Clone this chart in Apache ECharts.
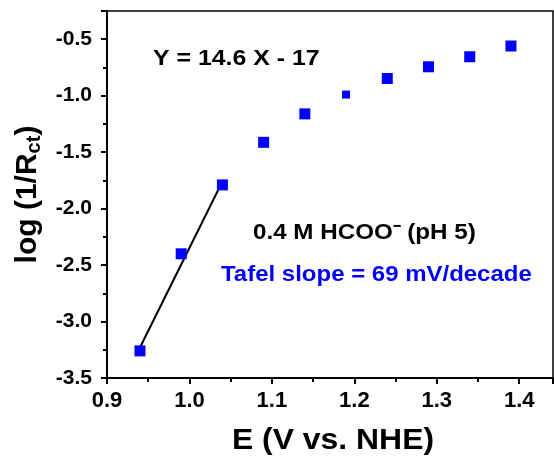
<!DOCTYPE html>
<html><head><meta charset="utf-8">
<script src="https://cdn.jsdelivr.net/npm/echarts@6/dist/echarts.min.js"></script>
<style>html,body{margin:0;padding:0;background:#fff}#c{width:554px;height:463px}</style>
</head><body><div id="c"></div>
<script>
const potentials = [0.94, 0.99, 1.04, 1.09, 1.14, 1.19, 1.24, 1.29, 1.34, 1.39];
const logInvRct = [-3.26, -2.40, -1.79, -1.413, -1.161, -0.99, -0.848, -0.744, -0.655, -0.56];
const fitX = [0.94, 1.04];
const fitY = [-3.23, -1.76];
const smallIndex = 5;
const xTicks = [0.9, 1.0, 1.1, 1.2, 1.3, 1.4];
const yTicks = [-3.5, -3.0, -2.5, -2.0, -1.5, -1.0, -0.5];

const FONT = '"Liberation Sans", Arial, sans-serif';
const chart = echarts.init(document.getElementById('c'), null, {renderer: 'canvas'});

const pts = potentials.map((x, i) => ({
  value: [x, logInvRct[i]],
  symbolSize: i === smallIndex ? 8 : 11
}));

chart.setOption({
  animation: false,
  backgroundColor: '#fff',
  grid: {left: 107, right: 1, top: 11, bottom: 85, show: true, borderColor: '#000', borderWidth: 1.5, backgroundColor: 'transparent'},
  xAxis: {
    type: 'value', min: 0.9, max: 1.441, interval: 0.1,
    axisLine: {show: true, onZero: false, lineStyle: {color: '#000', width: 2}},
    axisTick: {show: true, inside: false, length: 6, lineStyle: {color: '#000', width: 2}},
    minorTick: {show: true, splitNumber: 2, length: 4, lineStyle: {color: '#000', width: 2}},
    splitLine: {show: false},
    axisLabel: {color: '#000', fontFamily: FONT, fontWeight: 'bold', fontSize: 22, margin: 12,
      formatter: v => v.toFixed(1), showMaxLabel: false, showMinLabel: true},
    name: ''
  },
  yAxis: {
    type: 'value', min: -3.5, max: -0.25, interval: 0.5,
    axisLine: {show: true, onZero: false, lineStyle: {color: '#000', width: 2}},
    axisTick: {show: true, inside: false, length: 6, lineStyle: {color: '#000', width: 2}},
    minorTick: {show: true, splitNumber: 2, length: 4, lineStyle: {color: '#000', width: 2}},
    splitLine: {show: false},
    axisLabel: {color: '#000', fontFamily: FONT, fontWeight: 'bold', fontSize: 21, margin: 15,
      formatter: v => v.toFixed(1), showMaxLabel: false},
    name: 'log (1/R{sub|ct})', nameLocation: 'middle', nameGap: 61, nameRotate: 90,
    nameTextStyle: {color: '#000', fontFamily: FONT, fontWeight: 'bold', fontSize: 30,
      rich: {sub: {fontFamily: FONT, fontWeight: 'bold', fontSize: 20, color: '#000', padding: [14, 0, 0, 0]}}}
  },
  series: [
    {
      type: 'line', data: fitX.map((x, i) => [x, fitY[i]]), showSymbol: false, symbol: 'none',
      lineStyle: {color: '#000', width: 2}, z: 2
    },
    {
      type: 'scatter', data: pts, symbol: 'rect', itemStyle: {color: '#0000ff', opacity: 1}, z: 3
    }
  ],
  graphic: [
    {type: 'text', x: 333, y: 441, scaleX: 1.1,
      style: {text: 'E (V vs. NHE)', font: 'bold 29px ' + FONT, fill: '#000', textAlign: 'center', textVerticalAlign: 'middle'}},
    {type: 'text', x: 153, y: 59, scaleX: 1.13,
      style: {text: 'Y = 14.6 X - 17', font: 'bold 22px ' + FONT, fill: '#000', textAlign: 'left', textVerticalAlign: 'middle'}},
    {type: 'text', x: 253, y: 233, scaleX: 1.1,
      style: {text: '0.4 M HCOO\u207B (pH 5)', font: 'bold 22px ' + FONT, fill: '#000', textAlign: 'left', textVerticalAlign: 'middle'}},
    {type: 'text', x: 221, y: 275, scaleX: 1.09,
      style: {text: 'Tafel slope = 69 mV/decade', font: 'bold 22px ' + FONT, fill: '#0000ff', textAlign: 'left', textVerticalAlign: 'middle'}}
  ]
});
</script></body></html>
